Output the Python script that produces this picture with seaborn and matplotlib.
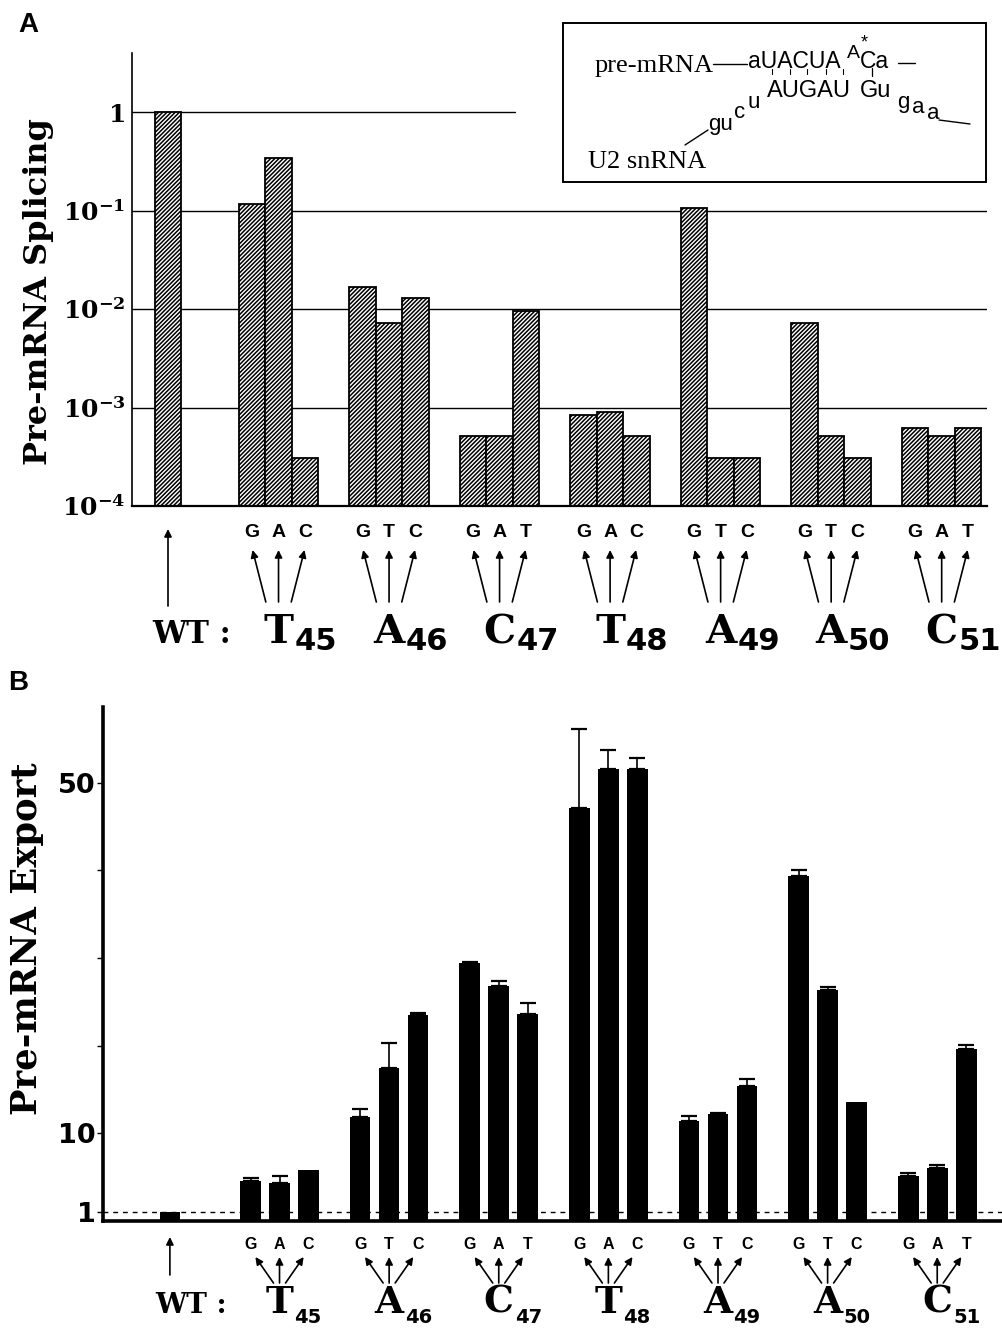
import matplotlib
matplotlib.use('Agg')
import matplotlib.pyplot as plt
import matplotlib.transforms as mtransforms
from matplotlib.patches import Rectangle
from matplotlib.lines import Line2D
from matplotlib.ticker import NullLocator
import seaborn as sns
import pandas as pd

groups = ['WT', 'T45', 'A46', 'C47', 'T48', 'A49', 'A50', 'C51']
mutants = [[''], ['G', 'A', 'C'], ['G', 'T', 'C'], ['G', 'A', 'T'], ['G', 'A', 'C'],
           ['G', 'T', 'C'], ['G', 'T', 'C'], ['G', 'A', 'T']]

# panel A: relative splicing (log scale)
splicing = [[1.0], [0.117, 0.34, 3.1e-4], [0.0167, 0.0072, 0.0129], [5.1e-4, 5.2e-4, 0.0095],
            [8.5e-4, 9.1e-4, 5.1e-4], [0.106, 3.05e-4, 3.05e-4], [0.0073, 5.1e-4, 3.05e-4],
            [6.2e-4, 5.1e-4, 6.2e-4]]

# panel B: relative export, with upper error
export = [[1.0], [4.57, 4.34, 5.82], [11.9, 17.5, 23.5], [29.4, 26.8, 23.6],
          [47.1, 51.6, 51.6], [11.4, 12.2, 15.4], [39.3, 26.4, 13.6], [5.17, 6.08, 19.6]]
export_err = [[0], [0.3, 0.76, 0], [0.9, 2.85, 0.25], [0.1, 0.6, 1.25],
              [9.0, 2.1, 1.2], [0.56, 0.1, 0.8], [0.75, 0.3, 0], [0.33, 0.28, 0.5]]

W, H = 1003, 1331


def frame(values, errs=None):
    rows = []
    for gi, g in enumerate(groups):
        slots = ['1'] if len(values[gi]) == 1 else ['0', '1', '2']
        for si, s in enumerate(slots):
            rows.append({'group': g, 'slot': s, 'mut': mutants[gi][si],
                         'value': values[gi][si],
                         'err': errs[gi][si] if errs else 0})
    return pd.DataFrame(rows)


def bar_positions(ax, df):
    pos = {}
    for slot, cont in zip(['0', '1', '2'], ax.containers):
        sub = df[df['slot'] == slot].copy()
        sub['gi'] = sub['group'].map(groups.index)
        sub = sub.sort_values('gi')
        for (_, r), p in zip(sub.iterrows(), cont.patches):
            pos[(r['group'], slot)] = p.get_x() + p.get_width() / 2
    return pos


sns.set_theme(style='white')
plt.rcParams['hatch.linewidth'] = 1.1
plt.rcParams['hatch.color'] = 'black'
plt.rcParams['mathtext.fontset'] = 'dejavuserif'
plt.rcParams['font.family'] = ['DejaVu Sans']
for k in ['text.color', 'axes.labelcolor', 'xtick.color', 'ytick.color', 'axes.edgecolor']:
    plt.rcParams[k] = 'black'

fig = plt.figure(figsize=(W / 100, H / 100), dpi=100)
fig.patch.set_facecolor('white')


def fy(y):
    return 1 - y / H


# ---------------- panel A ----------------
axA = fig.add_axes([132.3 / W, 1 - 506 / H, (987 - 132.3) / W, (506 - 53.3) / H])
dfA = frame(splicing)
sns.barplot(data=dfA, x='group', y='value', hue='slot', hue_order=['0', '1', '2'],
            order=groups, palette=['white'] * 3, saturation=1, edgecolor='black',
            linewidth=1.3, hatch='////////', width=0.72, dodge=True, errorbar=None,
            legend=False, ax=axA)
axA.set_yscale('log')
axA.set_ylim(1e-4, 3.97)
axA.set_xlim(-0.323, 7.41)
for v in [0.1, 0.01, 0.001]:
    axA.axhline(v, color='black', lw=1.0, zorder=0.5)
axA.axhline(1, xmax=0.448, color='black', lw=1.0, zorder=0.5)
axA.yaxis.set_minor_locator(NullLocator())
axA.set_yticks([1e-4, 1e-3, 1e-2, 1e-1, 1])
axA.set_yticklabels([r'$\mathbf{10^{-4}}$', r'$\mathbf{10^{-3}}$', r'$\mathbf{10^{-2}}$',
                     r'$\mathbf{10^{-1}}$', r'$\mathbf{1}$'], fontsize=18)
axA.tick_params(axis='y', length=0, pad=5)
axA.set_xticks([])
axA.set_xlabel('')
axA.set_ylabel('')
for s in ['top', 'right']:
    axA.spines[s].set_visible(False)
axA.spines['left'].set_linewidth(1.2)
axA.spines['bottom'].set_linewidth(1.6)

# ---------------- panel B ----------------
axB = fig.add_axes([102.7 / W, 1 - 1221 / H, (W - 102.7) / W, (1221 - 707.3) / H])
dfB = frame(export, export_err)
sns.barplot(data=dfB, x='group', y='value', hue='slot', hue_order=['0', '1', '2'],
            order=groups, palette=['black'] * 3, saturation=1, linewidth=0,
            width=0.794, gap=0.29, dodge=True, errorbar=None, legend=False, ax=axB)
axB.set_ylim(0, 58.6)
axB.set_xlim(-0.613, 7.60)
posB = bar_positions(axB, dfB)
eb = dfB[dfB['err'] > 0]
axB.errorbar([posB[(g, s)] for g, s in zip(eb['group'], eb['slot'])], eb['value'],
             yerr=[[0] * len(eb), eb['err']], fmt='none', ecolor='black',
             elinewidth=1.2, capsize=6, capthick=1.6, zorder=4)
axB.axhline(1, color='black', lw=1.0, ls=(0, (3.5, 3.5)), zorder=5)
axB.set_yticks([1, 10, 20, 30, 40, 50])
axB.set_yticklabels(['1', '10', '', '', '', '50'], fontsize=19.5, fontweight='bold')
axB.tick_params(axis='y', direction='out', length=4, width=1, pad=1, left=True)
axB.set_xticks([])
axB.set_xlabel('')
axB.set_ylabel('')
for s in ['top', 'right']:
    axB.spines[s].set_visible(False)
axB.spines['left'].set_linewidth(2.6)
axB.spines['bottom'].set_linewidth(2.6)

posA = bar_positions(axA, dfA)

# ---------------- category annotations ----------------
serif = 'DejaVu Serif'
renderer = fig.canvas.get_renderer()


def annotate_axis(ax, pos, small, tip_y, base_y, tip_off, base_off, mut_y,
                  wt_tip, wt_base, wt_x, main_y, main_size, sub_y, sub_size, wt_size):
    blend = mtransforms.blended_transform_factory(ax.transData, fig.transFigure)
    arrow = dict(arrowstyle='-|>', lw=1.2, color='black', mutation_scale=11,
                 shrinkA=0, shrinkB=0)
    for gi, g in enumerate(groups):
        if g == 'WT':
            x = pos[('WT', '1')]
            ax.annotate('', xy=(x, fy(wt_tip)), xytext=(x, fy(wt_base)),
                        xycoords=blend, textcoords=blend, arrowprops=arrow,
                        annotation_clip=False)
            fig.text(wt_x / W, fy(main_y), 'WT :', family=serif, fontweight='bold',
                     fontsize=wt_size, ha='left', va='baseline')
            continue
        xc = gi
        for si, s in enumerate(['0', '1', '2']):
            xb = pos[(g, s)]
            fig.text(xb, fy(mut_y), mutants[gi][si], transform=blend,
                     family='Liberation Sans', fontweight='bold', fontsize=small,
                     ha='center', va='baseline')
            d = si - 1
            ax.annotate('', xy=(xc + d * tip_off, fy(tip_y)),
                        xytext=(xc + d * base_off, fy(base_y)),
                        xycoords=blend, textcoords=blend, arrowprops=arrow,
                        annotation_clip=False)
        t = fig.text(xc, fy(main_y), g[0], transform=blend, family=serif,
                     fontweight='bold', fontsize=main_size, ha='center', va='baseline')
        bb = t.get_window_extent(renderer)
        fig.text(bb.x1 / W + 0.001, fy(sub_y), g[1:], family='DejaVu Sans',
                 fontweight='bold', fontsize=sub_size, ha='left', va='baseline')


annotate_axis(axA, posA, small=14, tip_y=550, base_y=602, tip_off=0.235, base_off=0.115,
              mut_y=537, wt_tip=529, wt_base=606, wt_x=152, main_y=643, main_size=29,
              sub_y=650, sub_size=22, wt_size=22)
annotate_axis(axB, posB, small=11.5, tip_y=1257, base_y=1283, tip_off=0.22, base_off=0.055,
              mut_y=1249, wt_tip=1237, wt_base=1275, wt_x=155, main_y=1312.7, main_size=27,
              sub_y=1323, sub_size=14, wt_size=20)

# ---------------- labels ----------------
fig.text(39 / W, fy(292), 'Pre-mRNA Splicing', family=serif, fontweight='bold',
         fontsize=23, rotation=90, ha='center', va='center')
fig.text(27 / W, fy(939), 'Pre-mRNA Export', family=serif, fontweight='bold',
         fontsize=25.5, rotation=90, ha='center', va='center')
fig.text(18 / W, fy(32), 'A', family='Liberation Sans', fontweight='bold', fontsize=20,
         va='baseline')
fig.text(8 / W, fy(690), 'B', family='Liberation Sans', fontweight='bold', fontsize=20,
         va='baseline')

# ---------------- inset diagram ----------------
fig.add_artist(Rectangle((563 / W, fy(182)), (986 - 563) / W, (182 - 23) / H,
                         transform=fig.transFigure, fill=False, lw=1.4, color='black'))


def seg(x1, y1, x2, y2, lw=1.0):
    fig.add_artist(Line2D([x1 / W, x2 / W], [fy(y1), fy(y2)], transform=fig.transFigure,
                          color='black', lw=lw))


def txt(x, y, s, size, fam='Liberation Sans'):
    fig.text(x / W, fy(y), s, family=fam, fontsize=size, ha='left', va='baseline')


txt(595, 72, 'pre-mRNA', 19, 'Liberation Serif')
seg(713, 64, 747, 64)
txt(748, 68, 'aUACUA', 16.5)
txt(847, 58, 'A', 14)
txt(861, 47, '*', 13)
txt(860, 68, 'Ca', 16.5)
seg(898, 63, 915, 63)
for xp in [772, 790, 807, 826, 843]:
    seg(xp, 69, xp, 74, lw=0.8)
seg(872, 68, 872, 76, lw=0.9)
txt(767, 97, 'AUGAU', 17)
txt(860, 97, 'Gu', 17)
txt(897, 108, 'g', 16)
txt(912, 113, 'a', 16)
txt(927, 119, 'a', 16)
seg(939, 120, 970, 124)
txt(708, 130, 'gu', 16)
txt(734, 118, 'c', 16)
txt(748, 108, 'u', 16)
seg(685, 145, 708, 130)
txt(588, 168, 'U2 snRNA', 19, 'Liberation Serif')

fig.savefig('out.png', dpi=100, facecolor='white')
